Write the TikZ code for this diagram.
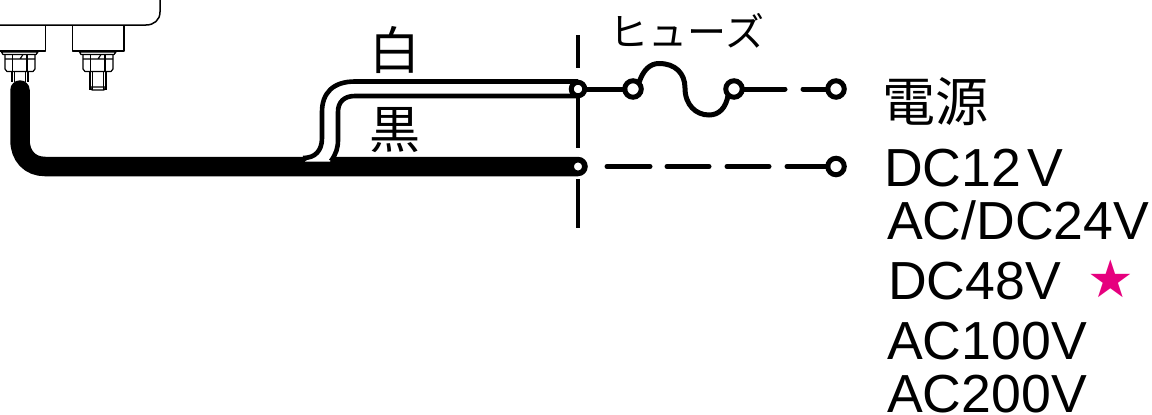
\documentclass[tikz,border=0pt]{standalone}
\usepackage{fontspec}
\setmainfont{Liberation Sans}
\newfontfamily\cjk{Noto Sans CJK JP}
\newfontfamily\djvfont{DejaVu Sans}
\definecolor{starpink}{HTML}{E6007E}
\tikzset{
 term/.style={circle,draw=black,fill=white,line width=5pt,minimum size=16.5pt,inner sep=0pt,outer sep=0pt},
 wire/.style={line width=5pt,line cap=round},
 dashl/.style={line width=4.5pt},
 cable/.style={line width=4.6pt},
 hw/.style={line width=1.2pt,line join=round},
 lbl/.style={font=\fontsize{53.6}{54}\selectfont,anchor=base west,inner sep=0pt},
 jp/.style={font=\cjk\fontsize{50}{50}\selectfont,anchor=base,inner sep=0pt},
}
\begin{document}
\begin{tikzpicture}[x=1pt,y=-1pt]
\useasboundingbox (0,0) rectangle (1152,415);
\clip (0,0) rectangle (1152,415);
% housing
\draw[line width=1.5pt] (-2,25) -- (146,25) .. controls (154,25) and (160,20) .. (160,12) -- (160,-2);
% terminals
\draw[hw] (-2,51) -- (45.5,51) -- (45.5,25);
\draw[hw] (72.5,25) -- (72.5,51) -- (124,51) -- (124,25);
\foreach \o/\b in {0/82,78/90}{
 \begin{scope}[xshift=\o pt]
 \draw[hw] (1.5,52) -- (38,52) -- (36,54.5) -- (3,54.5) -- cycle;
 \draw[hw] (5,54.5) -- (5,69) -- (7,71.5) -- (33,71.5) -- (35,69) -- (35,54.5);
 \draw[hw] (12.5,54.5) -- (12.5,71.5) (27,54.5) -- (27,71.5);
 \draw[hw] (5,59) -- (35,59) (20,59) -- (23,54.5);
 \draw[hw] (12,71.5) -- (12,\b) (28,71.5) -- (28,\b);
 \draw[hw] (14.5,71.5) -- (14.5,\b) (25.5,71.5) -- (25.5,\b);
 \ifnum\o>0 \draw[hw] (12,87) -- (28,87) (12,87) -- (14,90) -- (26,90) -- (28,87); \fi
 \end{scope}
}
% thick black cable
\coordinate (cs) at (20,90);
\coordinate (c1) at (20,140);
\coordinate (c2) at (45,166.5);
\coordinate (c3) at (578,166.5);
\draw[line width=19.5pt,line cap=round] (cs) -- (c1) .. controls (20,156) and (30,166.5) .. (c2) -- (c3);
\fill[white] (305,161.5) -- (330,161.5) -- (337,150) -- (322,150) -- cycle;
% white cable outline
\coordinate (w1) at (578,81.5);
\coordinate (w2) at (578,96);
\draw[cable] (w1) -- (355,81.5) .. controls (333,81.5) and (322,93) .. (322,112) -- (322,138) .. controls (322,151) and (315,158) .. (303,158);
\draw[cable] (w2) -- (355,96) .. controls (344,96) and (338,102) .. (338,112) -- (338,140) .. controls (338,148) and (336,154) .. (331,161);
% vertical dashed line
\coordinate (v1) at (578,35);\coordinate (v2) at (578,68);
\coordinate (v3) at (578,92);\coordinate (v4) at (578,148);
\coordinate (v5) at (578,179);\coordinate (v6) at (578,228);
\draw[dashl] (v1) -- (v2) (v3) -- (v4) (v5) -- (v6);
% terminals
\node[term,minimum size=13.5pt] (ta) at (578,89) {};
\node[term,minimum size=12pt,line width=4pt] (tb) at (578,166.5) {};
\node[term] (fa) at (633,89) {};
\node[term] (fb) at (734,89) {};
\node[term] (ea) at (836,89) {};
\node[term] (eb) at (836,166.5) {};
% wires
\coordinate (d1) at (785,89);\coordinate (d2) at (803,89);
\draw[wire] (ta) -- (fa.west);
\draw[wire] (fb) -- (d1);
\draw[wire] (d2) -- (ea);
\draw[wire,line cap=butt] (fa.north east) .. controls (643,70) and (650,63.5) .. (659,63.5) .. controls (675,63.5) and (685,73) .. (685,88) .. controls (685,105) and (696,115) .. (709,115) .. controls (719,115) and (726,108) .. (fb.south west);
\coordinate (l1) at (607,166.5);\coordinate (l2) at (650,166.5);
\coordinate (l3) at (667,166.5);\coordinate (l4) at (709,166.5);
\coordinate (l5) at (727,166.5);\coordinate (l6) at (769,166.5);
\coordinate (l7) at (787,166.5);
\draw[wire] (l1) -- (l2) (l3) -- (l4) (l5) -- (l6) (l7) -- (eb);
% labels
\node[jp,font=\cjk\fontsize{39}{39}\selectfont] (fuse) at (687,46) {ヒューズ};
\node[jp,font=\cjk\fontsize{51}{51}\selectfont] (shiro) at (395,69) {白};
\node[jp,font=\cjk\fontsize{51}{51}\selectfont] (kuro) at (395,148) {黒};
\node[lbl,font=\cjk\fontsize{53}{53}\selectfont] (dengen) at (882,121) {電源};
\node[lbl] (t1) at (884,186) {DC12\hspace{6pt}V};
\node[lbl] (t2) at (887,239) {AC/DC24V};
\node[lbl] (t3) at (888,299) {DC48V};
\node[lbl] (t4) at (887,359) {AC100V};
\node[lbl] (t5) at (887,412) {AC200V};
\node[anchor=base,inner sep=0pt,text=starpink,font=\djvfont\fontsize{52}{52}\selectfont] (star) at (1111,297) {★};
\end{tikzpicture}
\end{document}
